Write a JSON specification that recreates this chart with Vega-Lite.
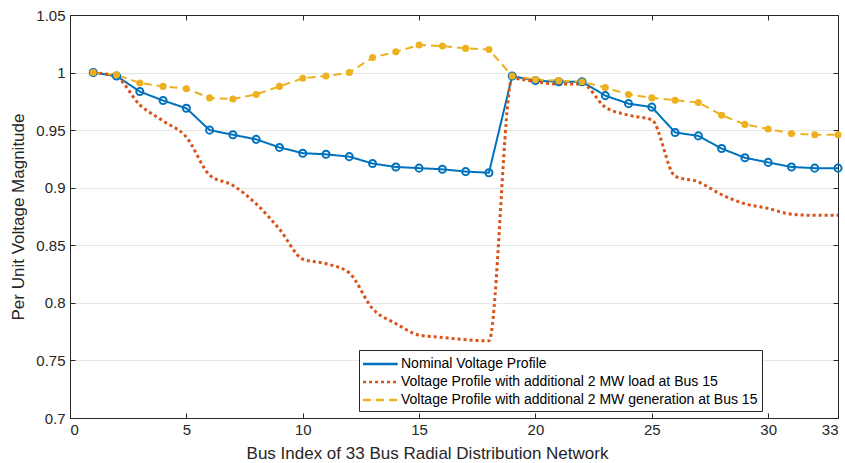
{
  "$schema": "https://vega.github.io/schema/vega-lite/v6.json",
  "autosize": {"type": "none"},
  "width": 768,
  "height": 403,
  "padding": {"left": 70, "top": 15, "right": 7, "bottom": 45},
  "background": "white",
  "config": {
    "font": "Liberation Sans",
    "view": {"stroke": "#262626", "strokeWidth": 1},
    "axis": {
      "labelFont": "Liberation Sans", "titleFont": "Liberation Sans",
      "labelFontSize": 15, "titleFontSize": 17, "titleFontWeight": "normal",
      "labelColor": "#262626", "titleColor": "#262626",
      "domainColor": "#262626", "tickColor": "#262626",
      "gridColor": "#e6e6e6", "gridWidth": 1
    }
  },
  "datasets": {
    "v": [
      {"bus":1,"series":"Nominal Voltage Profile","v":1.0},
      {"bus":2,"series":"Nominal Voltage Profile","v":0.997},
      {"bus":3,"series":"Nominal Voltage Profile","v":0.9835},
      {"bus":4,"series":"Nominal Voltage Profile","v":0.9757},
      {"bus":5,"series":"Nominal Voltage Profile","v":0.969},
      {"bus":6,"series":"Nominal Voltage Profile","v":0.950},
      {"bus":7,"series":"Nominal Voltage Profile","v":0.946},
      {"bus":8,"series":"Nominal Voltage Profile","v":0.942},
      {"bus":9,"series":"Nominal Voltage Profile","v":0.935},
      {"bus":10,"series":"Nominal Voltage Profile","v":0.930},
      {"bus":11,"series":"Nominal Voltage Profile","v":0.929},
      {"bus":12,"series":"Nominal Voltage Profile","v":0.927},
      {"bus":13,"series":"Nominal Voltage Profile","v":0.921},
      {"bus":14,"series":"Nominal Voltage Profile","v":0.918},
      {"bus":15,"series":"Nominal Voltage Profile","v":0.917},
      {"bus":16,"series":"Nominal Voltage Profile","v":0.916},
      {"bus":17,"series":"Nominal Voltage Profile","v":0.914},
      {"bus":18,"series":"Nominal Voltage Profile","v":0.913},
      {"bus":19,"series":"Nominal Voltage Profile","v":0.997},
      {"bus":20,"series":"Nominal Voltage Profile","v":0.993},
      {"bus":21,"series":"Nominal Voltage Profile","v":0.992},
      {"bus":22,"series":"Nominal Voltage Profile","v":0.992},
      {"bus":23,"series":"Nominal Voltage Profile","v":0.980},
      {"bus":24,"series":"Nominal Voltage Profile","v":0.973},
      {"bus":25,"series":"Nominal Voltage Profile","v":0.970},
      {"bus":26,"series":"Nominal Voltage Profile","v":0.948},
      {"bus":27,"series":"Nominal Voltage Profile","v":0.945},
      {"bus":28,"series":"Nominal Voltage Profile","v":0.934},
      {"bus":29,"series":"Nominal Voltage Profile","v":0.926},
      {"bus":30,"series":"Nominal Voltage Profile","v":0.922},
      {"bus":31,"series":"Nominal Voltage Profile","v":0.918},
      {"bus":32,"series":"Nominal Voltage Profile","v":0.917},
      {"bus":33,"series":"Nominal Voltage Profile","v":0.917},
      {"bus":1,"series":"Voltage Profile with additional 2 MW load at Bus 15","v":1.0},
      {"bus":2,"series":"Voltage Profile with additional 2 MW load at Bus 15","v":0.996},
      {"bus":3,"series":"Voltage Profile with additional 2 MW load at Bus 15","v":0.972},
      {"bus":4,"series":"Voltage Profile with additional 2 MW load at Bus 15","v":0.958},
      {"bus":5,"series":"Voltage Profile with additional 2 MW load at Bus 15","v":0.944},
      {"bus":6,"series":"Voltage Profile with additional 2 MW load at Bus 15","v":0.911},
      {"bus":7,"series":"Voltage Profile with additional 2 MW load at Bus 15","v":0.902},
      {"bus":8,"series":"Voltage Profile with additional 2 MW load at Bus 15","v":0.886},
      {"bus":9,"series":"Voltage Profile with additional 2 MW load at Bus 15","v":0.864},
      {"bus":10,"series":"Voltage Profile with additional 2 MW load at Bus 15","v":0.838},
      {"bus":11,"series":"Voltage Profile with additional 2 MW load at Bus 15","v":0.834},
      {"bus":12,"series":"Voltage Profile with additional 2 MW load at Bus 15","v":0.826},
      {"bus":13,"series":"Voltage Profile with additional 2 MW load at Bus 15","v":0.795},
      {"bus":14,"series":"Voltage Profile with additional 2 MW load at Bus 15","v":0.782},
      {"bus":15,"series":"Voltage Profile with additional 2 MW load at Bus 15","v":0.772},
      {"bus":16,"series":"Voltage Profile with additional 2 MW load at Bus 15","v":0.770},
      {"bus":17,"series":"Voltage Profile with additional 2 MW load at Bus 15","v":0.768},
      {"bus":18,"series":"Voltage Profile with additional 2 MW load at Bus 15","v":0.767},
      {"bus":19,"series":"Voltage Profile with additional 2 MW load at Bus 15","v":0.995},
      {"bus":20,"series":"Voltage Profile with additional 2 MW load at Bus 15","v":0.992},
      {"bus":21,"series":"Voltage Profile with additional 2 MW load at Bus 15","v":0.990},
      {"bus":22,"series":"Voltage Profile with additional 2 MW load at Bus 15","v":0.990},
      {"bus":23,"series":"Voltage Profile with additional 2 MW load at Bus 15","v":0.970},
      {"bus":24,"series":"Voltage Profile with additional 2 MW load at Bus 15","v":0.963},
      {"bus":25,"series":"Voltage Profile with additional 2 MW load at Bus 15","v":0.959},
      {"bus":26,"series":"Voltage Profile with additional 2 MW load at Bus 15","v":0.910},
      {"bus":27,"series":"Voltage Profile with additional 2 MW load at Bus 15","v":0.905},
      {"bus":28,"series":"Voltage Profile with additional 2 MW load at Bus 15","v":0.894},
      {"bus":29,"series":"Voltage Profile with additional 2 MW load at Bus 15","v":0.886},
      {"bus":30,"series":"Voltage Profile with additional 2 MW load at Bus 15","v":0.882},
      {"bus":31,"series":"Voltage Profile with additional 2 MW load at Bus 15","v":0.877},
      {"bus":32,"series":"Voltage Profile with additional 2 MW load at Bus 15","v":0.876},
      {"bus":33,"series":"Voltage Profile with additional 2 MW load at Bus 15","v":0.876},
      {"bus":1,"series":"Voltage Profile with additional 2 MW generation at Bus 15","v":1.0},
      {"bus":2,"series":"Voltage Profile with additional 2 MW generation at Bus 15","v":0.998},
      {"bus":3,"series":"Voltage Profile with additional 2 MW generation at Bus 15","v":0.991},
      {"bus":4,"series":"Voltage Profile with additional 2 MW generation at Bus 15","v":0.988},
      {"bus":5,"series":"Voltage Profile with additional 2 MW generation at Bus 15","v":0.986},
      {"bus":6,"series":"Voltage Profile with additional 2 MW generation at Bus 15","v":0.978},
      {"bus":7,"series":"Voltage Profile with additional 2 MW generation at Bus 15","v":0.977},
      {"bus":8,"series":"Voltage Profile with additional 2 MW generation at Bus 15","v":0.981},
      {"bus":9,"series":"Voltage Profile with additional 2 MW generation at Bus 15","v":0.988},
      {"bus":10,"series":"Voltage Profile with additional 2 MW generation at Bus 15","v":0.995},
      {"bus":11,"series":"Voltage Profile with additional 2 MW generation at Bus 15","v":0.997},
      {"bus":12,"series":"Voltage Profile with additional 2 MW generation at Bus 15","v":1.000},
      {"bus":13,"series":"Voltage Profile with additional 2 MW generation at Bus 15","v":1.013},
      {"bus":14,"series":"Voltage Profile with additional 2 MW generation at Bus 15","v":1.018},
      {"bus":15,"series":"Voltage Profile with additional 2 MW generation at Bus 15","v":1.024},
      {"bus":16,"series":"Voltage Profile with additional 2 MW generation at Bus 15","v":1.023},
      {"bus":17,"series":"Voltage Profile with additional 2 MW generation at Bus 15","v":1.021},
      {"bus":18,"series":"Voltage Profile with additional 2 MW generation at Bus 15","v":1.020},
      {"bus":19,"series":"Voltage Profile with additional 2 MW generation at Bus 15","v":0.997},
      {"bus":20,"series":"Voltage Profile with additional 2 MW generation at Bus 15","v":0.994},
      {"bus":21,"series":"Voltage Profile with additional 2 MW generation at Bus 15","v":0.993},
      {"bus":22,"series":"Voltage Profile with additional 2 MW generation at Bus 15","v":0.992},
      {"bus":23,"series":"Voltage Profile with additional 2 MW generation at Bus 15","v":0.987},
      {"bus":24,"series":"Voltage Profile with additional 2 MW generation at Bus 15","v":0.981},
      {"bus":25,"series":"Voltage Profile with additional 2 MW generation at Bus 15","v":0.978},
      {"bus":26,"series":"Voltage Profile with additional 2 MW generation at Bus 15","v":0.976},
      {"bus":27,"series":"Voltage Profile with additional 2 MW generation at Bus 15","v":0.974},
      {"bus":28,"series":"Voltage Profile with additional 2 MW generation at Bus 15","v":0.963},
      {"bus":29,"series":"Voltage Profile with additional 2 MW generation at Bus 15","v":0.955},
      {"bus":30,"series":"Voltage Profile with additional 2 MW generation at Bus 15","v":0.951},
      {"bus":31,"series":"Voltage Profile with additional 2 MW generation at Bus 15","v":0.947},
      {"bus":32,"series":"Voltage Profile with additional 2 MW generation at Bus 15","v":0.946},
      {"bus":33,"series":"Voltage Profile with additional 2 MW generation at Bus 15","v":0.946}
    ]
  },
  "data": {"name": "v"},
  "layer": [
    {
      "transform": [{"filter": "datum.series != 'Voltage Profile with additional 2 MW load at Bus 15'"}],
      "mark": {"type": "line", "strokeWidth": 2},
      "encoding": {
        "x": {"field": "bus", "type": "quantitative",
          "scale": {"domain": [0, 33], "nice": false, "zero": false},
          "axis": {"title": "Bus Index of 33 Bus Radial Distribution Network", "titleX": 357, "values": [0,5,10,15,20,25,30,33], "format": "d", "grid": false, "tickSize": -5, "labelPadding": 9, "titlePadding": 8}},
        "y": {"field": "v", "type": "quantitative",
          "scale": {"domain": [0.7, 1.05], "nice": false, "zero": false},
          "axis": {"title": "Per Unit Voltage Magnitude", "values": [0.7,0.75,0.8,0.85,0.9,0.95,1,1.05], "format": ".2~f", "tickSize": -5, "labelPadding": 10, "titlePadding": 8}},
        "color": {"field": "series", "type": "nominal",
          "scale": {"domain": ["Nominal Voltage Profile", "Voltage Profile with additional 2 MW load at Bus 15", "Voltage Profile with additional 2 MW generation at Bus 15"], "range": ["#0072BD", "#D95319", "#EDB120"]},
          "legend": {"title": null, "orient": "none", "legendX": 289, "legendY": 335, "symbolType": "M-3,0H1", "symbolSize": 300, "symbolOffset": 16, "symbolStrokeWidth": 2.5, "labelFontSize": 14, "labelFont": "Liberation Sans", "labelColor": "#000", "fillColor": "white", "strokeColor": "#262626", "padding": 4, "rowPadding": 1, "labelOffset": 2, "labelLimit": 600}},
        "strokeDash": {"field": "series", "type": "nominal",
          "scale": {"domain": ["Nominal Voltage Profile", "Voltage Profile with additional 2 MW load at Bus 15", "Voltage Profile with additional 2 MW generation at Bus 15"], "range": [[1, 0], [3, 3], [8, 5]]}}
      }
    },
    {
      "transform": [{"filter": "datum.series == 'Voltage Profile with additional 2 MW load at Bus 15'"}],
      "mark": {"type": "line", "strokeWidth": 3, "interpolate": "monotone", "strokeDash": [3, 3], "color": "#D95319"},
      "encoding": {"x": {"field": "bus", "type": "quantitative", "axis": null}, "y": {"field": "v", "type": "quantitative", "axis": null}}
    },
    {
      "transform": [{"filter": "datum.series == 'Nominal Voltage Profile'"}],
      "mark": {"type": "point", "shape": "circle", "filled": false, "size": 50, "strokeWidth": 2, "color": "#0072BD", "opacity": 1},
      "encoding": {"x": {"field": "bus", "type": "quantitative", "axis": null}, "y": {"field": "v", "type": "quantitative", "axis": null}}
    },
    {
      "transform": [{"filter": "datum.series == 'Voltage Profile with additional 2 MW generation at Bus 15'"}],
      "mark": {"type": "point", "shape": "circle", "filled": true, "size": 50, "color": "#EDB120", "opacity": 1},
      "encoding": {"x": {"field": "bus", "type": "quantitative", "axis": null}, "y": {"field": "v", "type": "quantitative", "axis": null}}
    },
    {
      "mark": {"type": "point", "opacity": 0},
      "encoding": {
        "x": {"field": "bus", "type": "quantitative", "axis": {"orient": "top", "title": null, "labels": false, "grid": false, "values": [0,5,10,15,20,25,30,33], "tickSize": -5}},
        "y": {"field": "v", "type": "quantitative", "axis": {"orient": "right", "title": null, "labels": false, "grid": false, "values": [0.7,0.75,0.8,0.85,0.9,0.95,1,1.05], "tickSize": -5}}
      }
    }
  ],
  "resolve": {"axis": {"x": "independent", "y": "independent"}}
}
